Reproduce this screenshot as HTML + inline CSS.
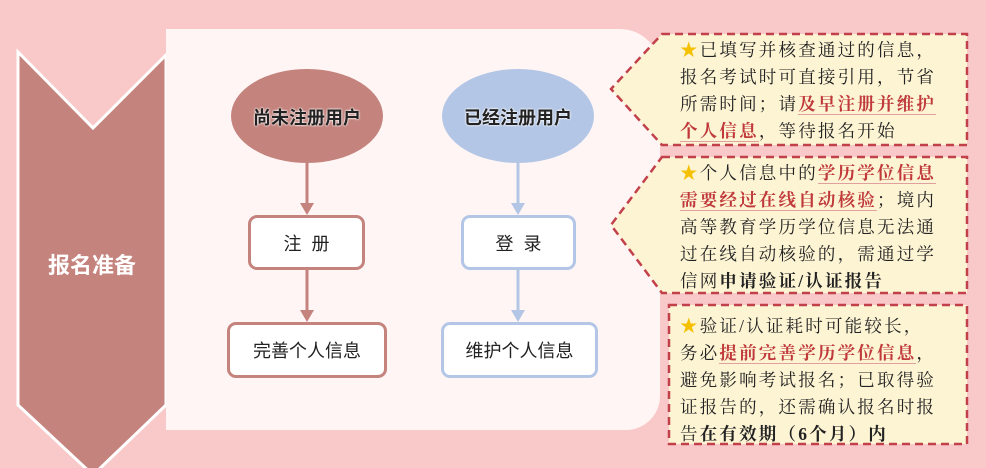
<!DOCTYPE html>
<html><head><meta charset="utf-8"><style>
body{margin:0;width:986px;height:468px;background:#f9c9c9;position:relative;overflow:hidden;font-family:"Liberation Sans","Noto Sans CJK SC",sans-serif}
.panel{position:absolute;left:166px;top:29px;width:494px;height:401px;background:#fff5f4;border-radius:0 40px 34px 0}
.box{position:absolute;background:#fff;border:3px solid #c4837d;border-radius:9px;box-sizing:border-box;display:flex;align-items:center;justify-content:center;font-size:18px;color:#222}
.blue{border-color:#b3c6e6}
.t{position:absolute;font-family:"Liberation Serif","Noto Serif CJK SC",serif;font-size:17.5px;line-height:27px;color:#222;letter-spacing:2.2px}
.r{color:#c0393b;font-weight:bold;border-bottom:1px solid #e0a0a0}
b{font-weight:bold}
.s{color:#f5c000}
</style></head><body>
<svg width="986" height="468" style="position:absolute;left:0;top:0">
<polygon points="18,52 93,128 166,55 166,405 93,475 18,405" fill="#c4837d" stroke="#fff" stroke-width="3"/>
</svg>
<div class="panel"></div>
<svg width="986" height="468" style="position:absolute;left:0;top:0">
<ellipse cx="307" cy="116" rx="76" ry="47" fill="#c4837d"/>
<ellipse cx="518" cy="116" rx="76" ry="47" fill="#b3c6e6"/>
<g stroke="#c4837d" stroke-width="3" fill="#c4837d">
<line x1="307" y1="163" x2="307" y2="205"/><polygon points="300,203 314,203 307,215" stroke="none"/>
<line x1="307" y1="270" x2="307" y2="312"/><polygon points="300,310 314,310 307,322" stroke="none"/>
</g>
<g stroke="#b3c6e6" stroke-width="3" fill="#b3c6e6">
<line x1="518" y1="163" x2="518" y2="205"/><polygon points="511,203 525,203 518,215" stroke="none"/>
<line x1="518" y1="270" x2="518" y2="312"/><polygon points="511,310 525,310 518,322" stroke="none"/>
</g>
<g fill="#fdf4d4" stroke="#c2404a" stroke-width="2.5" stroke-dasharray="8,5">
<polygon points="662,34 967,34 967,145 662,145 611,89"/>
<polygon points="662,157 967,157 967,293 662,293 611,225"/>
<rect x="669" y="305" width="298" height="139"/>
</g>
</svg>
<div style="position:absolute;left:18px;top:248px;width:148px;text-align:center;color:#fff;font-weight:bold;font-size:22px">报名准备</div>
<div style="position:absolute;left:231px;top:104px;width:152px;text-align:center;font-size:18px;font-weight:bold;color:#222;text-shadow:0 0 2px #fff,0 0 2px #fff">尚未注册用户</div>
<div style="position:absolute;left:442px;top:104px;width:152px;text-align:center;font-size:18px;font-weight:bold;color:#222;text-shadow:0 0 2px #fff,0 0 2px #fff">已经注册用户</div>
<div class="box" style="left:248px;top:215px;width:117px;height:55px">注&nbsp;&nbsp;册</div>
<div class="box" style="left:227px;top:322px;width:160px;height:56px">完善个人信息</div>
<div class="box blue" style="left:461px;top:215px;width:115px;height:55px">登&nbsp;&nbsp;录</div>
<div class="box blue" style="left:441px;top:322px;width:157px;height:56px">维护个人信息</div>
<div class="t" style="left:680px;top:37px"><span class="s">★</span>已填写并核查通过的信息，<br>报名考试时可直接引用，节省<br>所需时间；请<span class="r">及早注册并维护</span><br><span class="r">个人信息</span>，等待报名开始</div>
<div class="t" style="left:680px;top:160px"><span class="s">★</span>个人信息中的<span class="r">学历学位信息</span><br><span class="r">需要经过在线自动核验</span>；境内<br>高等教育学历学位信息无法通<br>过在线自动核验的，需通过学<br>信网<b>申请验证/认证报告</b></div>
<div class="t" style="left:680px;top:313px"><span class="s">★</span>验证/认证耗时可能较长，<br>务必<span class="r">提前完善学历学位信息</span>，<br>避免影响考试报名；已取得验<br>证报告的，还需确认报名时报<br>告<b>在有效期（6个月）内</b></div>
</body></html>
